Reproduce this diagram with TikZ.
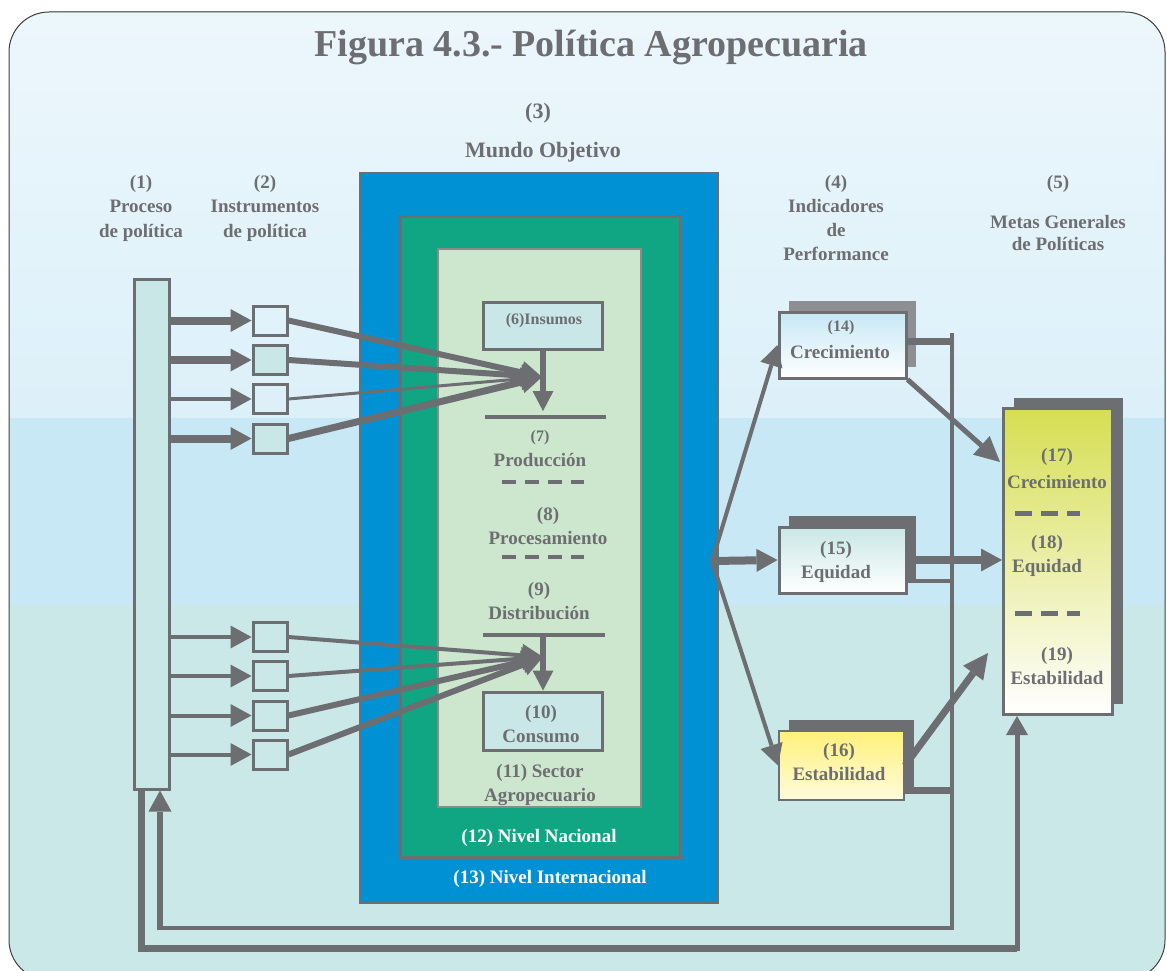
\documentclass[tikz,border=0pt]{standalone}
\usepackage{fontspec}
\setmainfont{Liberation Serif}
\usepackage{tikz}
\usetikzlibrary{arrows.meta}
\usetikzlibrary{shadows}
\pgfdeclarelayer{background}
\pgfdeclarelayer{foreground}
\pgfsetlayers{background,main,foreground}

\definecolor{txtgray}{HTML}{6D6E71}
\definecolor{linegray}{HTML}{6D6E71}
\definecolor{lightshadow}{HTML}{8E8F92}
\definecolor{skytop}{HTML}{EDF7FC}
\definecolor{skymid}{HTML}{DCF0F9}
\definecolor{skyband}{HTML}{C7E8F4}
\definecolor{seafloor}{HTML}{CAE8E7}
\definecolor{worldblue}{HTML}{0091D5}
\definecolor{nationgreen}{HTML}{10A583}
\definecolor{sectorgreen}{HTML}{CDE6CE}
\definecolor{sectorline}{HTML}{8A8C8A}
\definecolor{palecyan}{HTML}{C9E7E6}
\definecolor{paleblue}{HTML}{C6E8F5}
\definecolor{goalgreen}{HTML}{D6DE52}
\definecolor{goalmid}{HTML}{EFF0A8}
\definecolor{stabyellow}{HTML}{FFF17A}
\definecolor{stabpale}{HTML}{FFFBDD}

\begin{document}
\begin{tikzpicture}[x=1pt,y=-1pt,
				txt/.style={text=txtgray, font=\bfseries\fontsize{19}{24.5}\selectfont, inner sep=0pt, align=center},
				smalltxt/.style={txt, font=\bfseries\fontsize{16}{18}\selectfont},
				whitetxt/.style={txt, text=white},
				panel/.style={draw=linegray, line width=3pt},
				instbox/.style={draw=linegray, line width=3pt, minimum width=34pt, minimum height=29pt, inner sep=0pt},
				indbox/.style={draw=linegray, line width=3pt, minimum width=127pt, minimum height=66pt,
					drop shadow={shadow xshift=10pt, shadow yshift=11pt, fill=linegray, opacity=1}},
				arrowline/.style={draw=linegray, -{Triangle[length=21pt,width=23pt,line width=0pt]}},
				dashline/.style={draw=linegray, line width=4.5pt, dash pattern=on 14pt off 9pt},
				]
				\useasboundingbox (0,0) rectangle (1167,971);

				\begin{pgfonlayer}{background}
				%Page
				\begin{scope}
				\clip[rounded corners=40pt] (9,12) rectangle (1165,980);
				\fill[top color=skytop, bottom color=skymid] (0,0) rectangle (1167,418);
				\fill[skyband] (0,418) rectangle (1167,605);
				\fill[seafloor] (0,605) rectangle (1167,980);
				\end{scope}
				\draw[line width=1pt, darkgray, rounded corners=40pt] (9,12) rectangle (1165,980);
				\end{pgfonlayer}

				%Headings
				\node[txt, font=\bfseries\fontsize{38}{40}\selectfont] (title) at (591,47) {Figura 4.3.- Política Agropecuaria};
				\node[txt, font=\bfseries\fontsize{22}{24}\selectfont] (h3)    at (538,113)   {(3)};
				\node[txt, font=\bfseries\fontsize{22}{24}\selectfont] (h3b)   at (543,152)   {Mundo Objetivo};
				\node[txt]      (h1)  at (141,208)   {(1)\\Proceso\\de política};
				\node[txt]      (h2)  at (265,208)   {(2)\\Instrumentos\\de política};
				\node[txt, font=\bfseries\fontsize{19}{23.7}\selectfont] (h4) at (836,218) {(4)\\Indicadores\\de\\Performance};
				\node[txt]      (h5)  at (1058,184)  {(5)};
				\node[txt, font=\bfseries\fontsize{19}{22}\selectfont] (h5b) at (1058,233) {Metas Generales\\de Políticas};

				%Panels
				\node[panel, fill=worldblue, line width=2pt, minimum width=358pt, minimum height=730pt] (n13) at (539,538) {};
				\node[panel, fill=nationgreen, minimum width=280pt, minimum height=641pt] (n12) at (540,536.5) {};
				\node[panel, fill=sectorgreen, draw=sectorline, line width=2pt, minimum width=203pt, minimum height=558pt] (n11) at (539.5,528) {};
				\node[whitetxt] (t12) at (539,838) {(12) Nivel Nacional};
				\node[whitetxt] (t13) at (550,879) {(13) Nivel Internacional};

				%Nodes
				\node[panel, fill=palecyan, minimum width=35pt, minimum height=510pt] (n1) at (151.5,534) {};
				\node[instbox]                (i1) at (270,320.5) {};
				\node[instbox, fill=palecyan] (i2) at (270,360)   {};
				\node[instbox]                (i3) at (270,399)   {};
				\node[instbox, fill=palecyan] (i4) at (270,438.5) {};
				\node[instbox]                (i5) at (270,637)   {};
				\node[instbox]                (i6) at (270,676)   {};
				\node[instbox]                (i7) at (270,715.5) {};
				\node[instbox]                (i8) at (270,754.5) {};

				\node[panel, fill=palecyan, minimum width=119pt, minimum height=47pt] (n6)  at (542.5,325.5) {};
				\node[smalltxt] (t6)  at (544,321)   {(6)Insumos};
				\node[smalltxt] (t7)  at (540,438)   {(7)};
				\node[txt]      (t7b) at (540,460)   {Producción};
				\node[txt]      (t8)  at (548,526)   {(8)\\Procesamiento};
				\node[txt]      (t9)  at (539,601)   {(9)\\Distribución};
				\node[panel, fill=palecyan, minimum width=119pt, minimum height=58pt] (n10) at (542.5,721) {};
				\node[txt]      (t10) at (541,724)   {(10)\\Consumo};
				\node[txt]      (t11) at (540,785)   {(11) Sector\\Agropecuario};

				\node[indbox, top color=paleblue, bottom color=white,
					drop shadow={shadow xshift=10pt, shadow yshift=11pt, fill=lightshadow, opacity=1}] (n14) at (842.5,345) {};
				\node[smalltxt] (t14)  at (841,328)   {(14)};
				\node[txt]      (t14b) at (840,352)   {Crecimiento};
				\node[indbox, top color=palecyan, bottom color=white] (n15) at (842.5,560) {};
				\node[txt]      (t15)  at (836,562)   {(15)\\Equidad};
				\node[indbox, top color=stabyellow, bottom color=stabpale, line width=2pt,
					minimum width=125pt, minimum height=69pt] (n16) at (841.5,765.5) {};
				\node[txt]      (t16)  at (839,762)   {(16)\\Estabilidad};

				\node[indbox, top color=goalgreen, middle color=goalmid, bottom color=white,
					minimum width=109pt, minimum height=306pt] (n17) at (1058,561.5) {};
				\node[txt, font=\bfseries\fontsize{19}{27}\selectfont] (t17) at (1057,468) {(17)\\Crecimiento};
				\node[txt]      (t18)  at (1047,556)  {(18)\\Equidad};
				\node[txt]      (t19)  at (1057,666)  {(19)\\Estabilidad};

				%Coordinates
				\coordinate (c7)    at (542,377);
				\coordinate (p7)    at (543,411);
				\coordinate (c9)    at (543,657);
				\coordinate (p9)    at (543,635);
				\coordinate (split) at (712,561);
				\coordinate (g17)   at (1000,462);
				\coordinate (g19)   at (988,653);
				\coordinate (fb1)   at (952,333);
				\coordinate (fb2)   at (952,928);
				\coordinate (fb3)   at (160,928);
				\coordinate (fo1)   at (141,948);
				\coordinate (fo2)   at (1017,948);

				%Lines
				\draw[linegray, line width=4pt] (485,417) -- (606,417);
				\draw[linegray, line width=4pt] (483,635) -- (605,635);
				\draw[dashline] (502,482) -- (584,482);
				\draw[dashline] (502,557) -- (584,557);
				\draw[dashline, line width=5pt, dash pattern=on 17pt off 9pt] (1015,513) -- (1080,513);
				\draw[dashline, line width=5pt, dash pattern=on 17pt off 9pt] (1015,613) -- (1080,613);

				\draw[arrowline, line width=8pt] (n1.east |- i1) -- (i1.west);
				\draw[arrowline, line width=8pt] (n1.east |- i2) -- (i2.west);
				\draw[arrowline, line width=4pt] (n1.east |- i3) -- (i3.west);
				\draw[arrowline, line width=8pt] (n1.east |- i4) -- (i4.west);
				\draw[arrowline, line width=4pt] (n1.east |- i5) -- (i5.west);
				\draw[arrowline, line width=4pt] (n1.east |- i6) -- (i6.west);
				\draw[arrowline, line width=4pt] (n1.east |- i7) -- (i7.west);
				\draw[arrowline, line width=4pt] (n1.east |- i8) -- (i8.west);

				\draw[arrowline, line width=6pt] (i1.east) -- (c7);
				\draw[arrowline, line width=6pt] (i2.east) -- (c7);
				\draw[arrowline, line width=3pt] (i3.east) -- (c7);
				\draw[arrowline, line width=7pt] (i4.east) -- (c7);
				\draw[arrowline, line width=4pt] (i5.east) -- (c9);
				\draw[arrowline, line width=4pt] (i6.east) -- (c9);
				\draw[arrowline, line width=6pt] (i7.east) -- (c9);
				\draw[arrowline, line width=6pt] (i8.east) -- (c9);

				\draw[arrowline, line width=6pt, -{Triangle[length=20pt,width=21pt,line width=0pt]}] (n6.south -| p7) -- (p7);
				\draw[arrowline, line width=6pt, -{Triangle[length=20pt,width=21pt,line width=0pt]}] (p9) -- (n10.north -| p9);

				\draw[arrowline, line width=4pt] (split) -- (n14.west);
				\draw[arrowline, line width=8pt] (split) -- (n15.west);
				\draw[arrowline, line width=4pt] (split) -- (n16.west);

				\draw[arrowline, line width=5pt, -{Triangle[length=25pt,width=25pt,line width=0pt]}] (n14.south east) -- (g17);
				\draw[arrowline, line width=8pt] (n15.east) -- (n15.east -| n17.west);
				\draw[arrowline, line width=7pt, -{Triangle[length=25pt,width=25pt,line width=0pt]}] (n16.east) -- (g19);

				\draw[linegray, line width=7pt] ([yshift=4pt]n14.east) -- ([yshift=4pt]n14.east -| fb1);
				\draw[linegray, line width=4pt] ([yshift=-21pt]n15.east) -- ([yshift=-21pt]n15.east -| fb1);
				\draw[linegray, line width=7pt] ([yshift=-25pt]n16.east) -- ([yshift=-25pt]n16.east -| fb1);
				\draw[linegray, line width=4pt] (fb1) -- (fb2) -- (fb3);
				\draw[arrowline, line width=6pt] ([yshift=-2pt]fb3) -- (n1.south -| fb3);

				\draw[linegray, line width=7pt] (n1.south -| fo1) -- (fo1) -- (fo2);
				\draw[arrowline, line width=5pt, -{Triangle[length=19pt,width=22pt,line width=0pt]}] ([yshift=-3pt]fo2) -- (fo2 |- n17.south);
			\end{tikzpicture}
\end{document}
